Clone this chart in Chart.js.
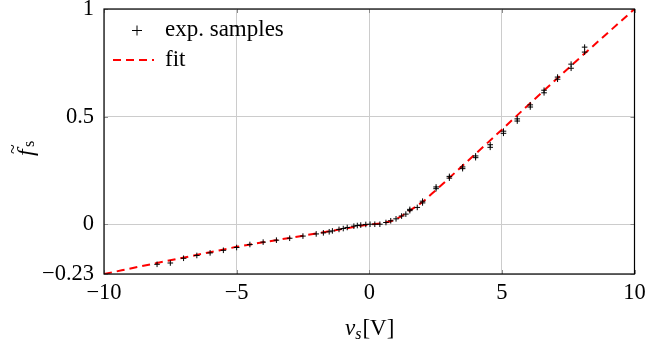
<!DOCTYPE html>
<html>
<head>
<meta charset="utf-8">
<script src="https://cdn.jsdelivr.net/npm/chart.js@4"></script>
<style>
  html, body { margin: 0; padding: 0; background: #fff; }
  #wrap { width: 646px; height: 344px; }
</style>
</head>
<body>
<div id="wrap"><canvas id="plot"></canvas></div>
<script>
// measured samples
var sampleX = [-8.0, -7.5, -7.0, -6.5, -6.0, -5.5, -5.0, -4.5, -4.0, -3.5, -3.0, -2.5, -2.0,
    -1.73, -1.51, -1.39, -1.14, -0.98, -0.83, -0.58, -0.45, -0.32, -0.13, 0.03, 0.21, 0.40,
    0.63, 0.81, 1.01, 1.22, 1.38, 1.53, 1.53, 1.81, 2.01, 2.01, 2.52, 2.52, 3.02, 3.02,
    3.52, 3.52, 4.01, 4.01, 4.56, 4.56, 5.06, 5.06, 5.58, 5.58, 6.07, 6.07, 6.59, 6.59,
    7.10, 7.10, 7.61, 7.61, 8.12, 8.12];
var sampleY = [-0.185, -0.179, -0.157, -0.144, -0.132, -0.120, -0.107, -0.093, -0.082, -0.073, -0.064, -0.054, -0.044,
    -0.039, -0.034, -0.030, -0.023, -0.019, -0.014, -0.008, -0.005, -0.003, 0.0, 0.001, 0.001, 0.001,
    0.009, 0.017, 0.026, 0.039, 0.048, 0.064, 0.070, 0.079, 0.100, 0.108, 0.166, 0.174, 0.215, 0.223,
    0.259, 0.267, 0.310, 0.318, 0.358, 0.370, 0.423, 0.433, 0.480, 0.490, 0.545, 0.555, 0.611, 0.623,
    0.674, 0.684, 0.725, 0.744, 0.800, 0.823];

// fitted curve
var fitX = [-10, -8, -6, -5, -4, -2, -1, -0.5, 0, 0.5, 1, 1.5, 2, 2.5, 3, 4, 5, 6, 7, 8, 9, 10];
var fitY = [-0.23, -0.179, -0.129, -0.104, -0.083, -0.042, -0.021, -0.01, 0, 0.006, 0.024, 0.062, 0.104, 0.158, 0.214, 0.327, 0.44, 0.555, 0.668, 0.78, 0.89, 1.0];

var xTicks = [-10, -5, 0, 5, 10];
var yTicks = [-0.23, 0, 0.5, 1];

var FONT = "'Liberation Serif', 'DejaVu Serif', serif";

function pts(xs, ys) {
    var out = [];
    for (var i = 0; i < xs.length; i++) out.push({ x: xs[i], y: ys[i] });
    return out;
}
function fmt(v) {
    var s = String(v);
    return v < 0 ? "\u2212" + s.slice(1) : s;
}
function noPad(s) {
    s.paddingTop = 0;
    s.paddingBottom = 0;
    s.paddingLeft = 0;
    s.paddingRight = 0;
}

// frame, inner tick marks, legend and axis titles
var decor = {
    id: "decor",
    beforeDatasetsDraw: function (chart) {
        var c = chart.ctx, a = chart.chartArea;
        var xs = chart.scales.x, ys = chart.scales.y;
        c.save();
        c.strokeStyle = "#8c8c8c";
        c.lineWidth = 1;
        c.beginPath();
        xTicks.forEach(function (t) {
            var px = Math.round(xs.getPixelForValue(t)) + 0.5;
            c.moveTo(px, a.bottom); c.lineTo(px, a.bottom - 4);
            c.moveTo(px, a.top); c.lineTo(px, a.top + 4);
        });
        yTicks.forEach(function (t) {
            var py = Math.round(ys.getPixelForValue(t)) + 0.5;
            c.moveTo(a.left, py); c.lineTo(a.left + 4, py);
            c.moveTo(a.right, py); c.lineTo(a.right - 4, py);
        });
        c.stroke();
        c.restore();
    },
    afterDraw: function (chart) {
        var c = chart.ctx, a = chart.chartArea;
        c.save();
        c.strokeStyle = "#000";
        c.lineWidth = 1.2;
        c.strokeRect(a.left, a.top, a.right - a.left, a.bottom - a.top);

        // legend
        c.strokeStyle = "#000";
        c.lineWidth = 1;
        c.beginPath();
        c.moveTo(132, 30.5); c.lineTo(142, 30.5);
        c.moveTo(137, 25.5); c.lineTo(137, 35.5);
        c.stroke();
        c.strokeStyle = "#ff0000";
        c.lineWidth = 2;
        c.setLineDash([8, 5]);
        c.beginPath();
        c.moveTo(113, 60); c.lineTo(154, 60);
        c.stroke();
        c.setLineDash([]);
        c.fillStyle = "#000";
        c.font = "23px " + FONT;
        c.textBaseline = "alphabetic";
        c.textAlign = "left";
        c.fillText("exp. samples", 165, 36);
        c.fillText("fit", 165, 66);

        // x title: v_s[V]
        var x0 = 345, base = 335;
        c.font = "italic 23px " + FONT;
        c.fillText("v", x0, base);
        var w = c.measureText("v").width;
        c.font = "italic 16px " + FONT;
        c.fillText("s", x0 + w, base + 4);
        var w2 = c.measureText("s").width;
        c.font = "23px " + FONT;
        c.fillText("[V]", x0 + w + w2 + 1, base);

        // y title: f~_s rotated
        c.translate(33, 147);
        c.rotate(-Math.PI / 2);
        c.font = "italic 24px " + FONT;
        c.fillText("f", -9, 0);
        c.font = "18px " + FONT;
        c.textBaseline = "middle";
        c.fillText("~", -7, -19);
        c.textBaseline = "alphabetic";
        c.font = "16px " + FONT;
        c.fillText("s", 0, 1);
        c.restore();
    }
};

var ctx = document.getElementById("plot");
var chart = new Chart(ctx, {
    type: "scatter",
    data: {
        datasets: [
            {
                label: "exp. samples",
                data: pts(sampleX, sampleY),
                pointStyle: "cross",
                pointRadius: 2.8,
                borderColor: "#000",
                backgroundColor: "#000",
                borderWidth: 1,
                showLine: false,
                order: 1,
            },
            {
                label: "fit",
                data: pts(fitX, fitY),
                showLine: true,
                pointRadius: 0,
                borderColor: "#ff0000",
                borderWidth: 2,
                borderDash: [8, 5],
                cubicInterpolationMode: "monotone",
                fill: false,
                order: 2,
            },
        ],
    },
    options: {
        responsive: true,
        maintainAspectRatio: false,
        animation: false,
        events: [],
        layout: { autoPadding: false, padding: { top: 9, right: 11.5, left: 0, bottom: 0 } },
        plugins: {
            legend: { display: false },
            tooltip: { enabled: false },
        },
        scales: {
            x: {
                type: "linear",
                min: -10,
                max: 10,
                afterBuildTicks: function (s) {
                    s.ticks = xTicks.map(function (v) { return { value: v }; });
                },
                afterFit: function (s) { s.height = 70; noPad(s); },
                grid: { color: "#cccccc", drawTicks: false },
                border: { display: false },
                ticks: {
                    padding: 6,
                    color: "#000",
                    font: { family: FONT, size: 22.5 },
                    maxRotation: 0,
                    callback: function (v) { return fmt(v); },
                },
            },
            y: {
                type: "linear",
                min: -0.23,
                max: 1,
                afterBuildTicks: function (s) {
                    s.ticks = yTicks.map(function (v) { return { value: v }; });
                },
                afterFit: function (s) { s.width = 104; noPad(s); },
                grid: { color: "#cccccc", drawTicks: false },
                border: { display: false },
                ticks: {
                    padding: 10,
                    color: "#000",
                    font: { family: FONT, size: 22.5 },
                    callback: function (v) { return fmt(v); },
                },
            },
        },
    },
    plugins: [decor],
});
</script>
</body>
</html>
